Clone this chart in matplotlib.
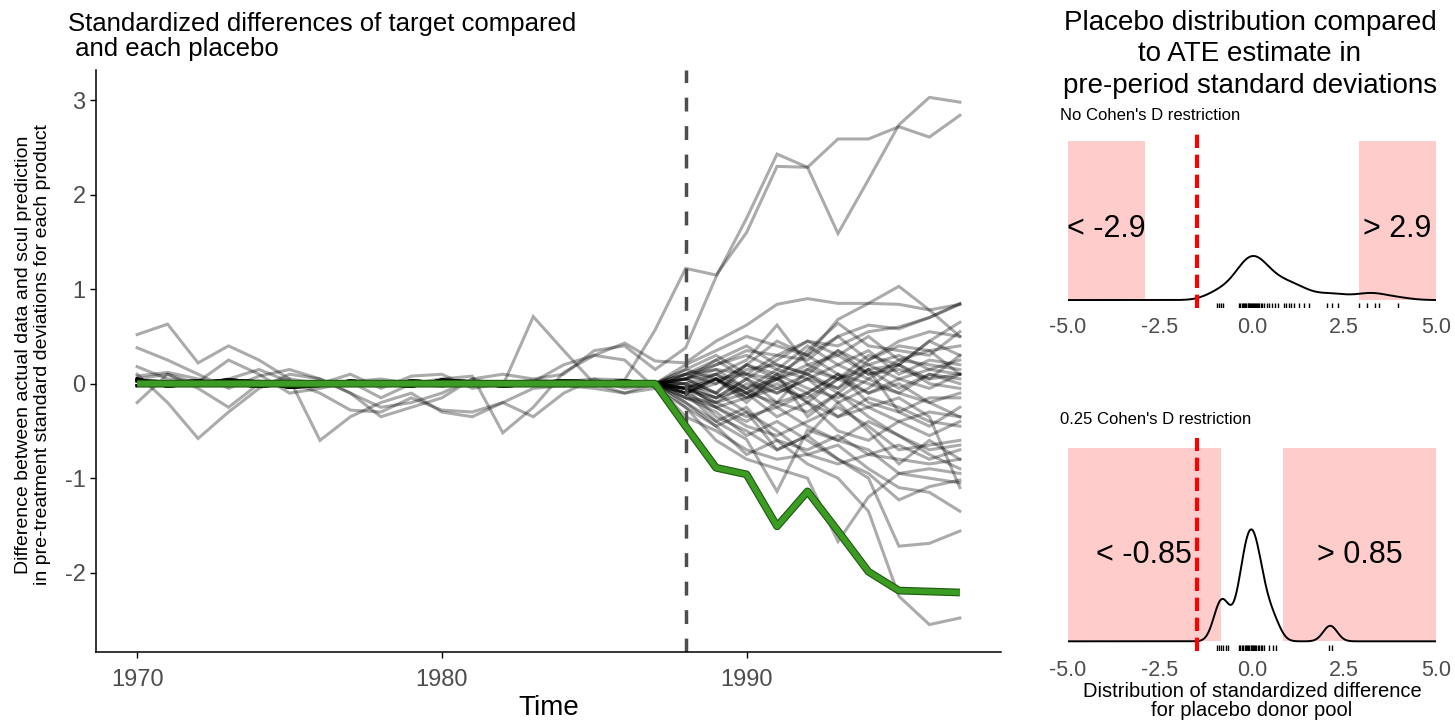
import numpy as np
import matplotlib.pyplot as plt
from matplotlib.transforms import blended_transform_factory


plt.rcParams["font.family"] = ["Liberation Sans", "DejaVu Sans"]
plt.rcParams["axes.unicode_minus"] = False

years = list(range(1970, 1998))
treat_year = 1988
ate_estimate = -1.5

# target (green) path, 1970-1997
target = [0.00, 0.00, 0.00, 0.00, 0.00, 0.00, 0.00, 0.00, 0.00,
          0.00, 0.00, 0.00, 0.00, 0.00, 0.00, 0.00, 0.00, 0.00,
          -0.45, -0.89, -0.96, -1.51, -1.14, -1.56, -1.99, -2.19, -2.20, -2.21]

# placebos that move before treatment: 1970-1987
noisy_pre = [
    [0.08, 0.12, 0.05, 0.00, 0.03, -0.02, 0.00, 0.02, 0.05, 0.00, -0.03, 0.02, 0.00, 0.04, 0.02, 0.05, 0.04, 0.57],
    [0.38, 0.25, 0.10, -0.05, 0.08, 0.15, 0.05, -0.10, -0.25, -0.20, -0.10, 0.05, 0.10, 0.05, 0.10, 0.35, 0.40, 0.15],
    [-0.20, 0.10, -0.05, -0.25, 0.00, 0.05, -0.60, -0.35, -0.20, -0.10, -0.30, -0.35, -0.20, -0.35, -0.10, 0.05, -0.05, 0.00],
    [0.10, -0.20, -0.58, -0.30, -0.05, 0.10, 0.05, -0.10, -0.35, -0.25, -0.15, 0.05, -0.02, 0.71, 0.35, 0.00, -0.10, -0.05],
    [0.18, 0.05, 0.02, 0.25, 0.10, -0.10, -0.05, 0.02, -0.15, 0.00, 0.05, 0.08, -0.52, -0.25, 0.12, 0.30, 0.25, -0.05],
    [0.52, 0.63, 0.22, 0.40, 0.25, 0.05, 0.00, 0.10, -0.05, 0.08, 0.10, -0.05, 0.00, 0.02, 0.20, 0.30, 0.43, 0.24],
    [0.05, 0.10, 0.00, 0.05, 0.15, 0.02, -0.10, -0.28, -0.30, -0.15, -0.28, -0.30, -0.20, -0.05, -0.02, -0.05, -0.10, 0.00],
]

# same placebos after treatment: 1988-1997
noisy_post = [
    [1.22, 1.15, 1.60, 2.30, 2.29, 2.59, 2.59, 2.72, 2.61, 2.84],
    [0.38, 1.13, 1.75, 2.43, 2.29, 1.59, 2.16, 2.74, 3.03, 2.98],
    [-0.10, 0.05, -0.20, 0.10, -0.35, -0.10, 0.15, -0.30, -0.45, -0.25],
    [-0.25, -0.45, -0.30, -0.70, -0.55, -0.20, -0.50, -0.85, -0.60, -0.80],
    [0.10, 0.25, 0.05, -0.20, 0.15, 0.35, 0.10, 0.20, 0.45, 0.30],
    [0.22, 0.45, 0.62, 0.84, 0.90, 0.85, 0.85, 0.84, 0.78, 0.84],
    [-0.05, -0.20, -0.35, -0.25, -0.45, -0.60, -0.40, -0.55, -0.70, -0.65],
]

# placebos that sit on zero before treatment
quiet_pre_a = [0.03, 0.02, 0.00, -0.02, 0.01, 0.02, 0.00, -0.01, 0.02, 0.01, -0.02, 0.00, 0.01, 0.02, 0.00, -0.01, 0.01, 0.00]
quiet_pre_b = [-0.02, 0.01, 0.03, 0.00, -0.03, 0.00, 0.02, 0.01, -0.02, 0.03, 0.01, -0.01, 0.00, 0.01, 0.03, 0.02, -0.02, 0.00]
quiet_pre_c = [0.05, -0.03, 0.01, 0.04, 0.02, -0.04, -0.02, 0.03, 0.00, -0.03, 0.04, 0.02, -0.03, 0.00, -0.02, 0.01, 0.03, 0.00]

quiet_post = [
    [0.10, 0.20, 0.35, 0.30, 0.45, 0.40, 0.55, 0.60, 0.70, 0.84],
    [0.05, 0.15, 0.10, 0.30, 0.25, 0.50, 0.62, 0.58, 0.70, 0.85],
    [-0.05, 0.10, 0.25, 0.62, 0.20, 0.05, 0.30, 0.20, 0.45, 0.65],
    [0.15, 0.30, 0.10, 0.05, 0.35, 0.64, 0.40, 0.35, 0.30, 0.55],
    [0.00, -0.10, 0.15, 0.20, 0.10, -0.05, 0.25, 0.40, 0.35, 0.40],
    [-0.10, 0.05, -0.15, 0.05, 0.20, 0.30, 0.10, 0.15, 0.05, 0.30],
    [0.05, 0.20, 0.30, 0.15, 0.40, 0.20, 0.05, 0.25, 0.20, 0.15],
    [-0.15, -0.20, 0.00, -0.10, 0.05, 0.20, 0.35, 0.10, 0.25, 0.20],
    [0.10, 0.00, 0.20, 0.45, 0.30, 0.10, -0.10, 0.05, -0.05, 0.10],
    [-0.05, 0.05, 0.10, -0.05, -0.15, 0.05, 0.15, -0.05, 0.10, 0.05],
    [0.00, -0.15, -0.05, 0.15, 0.05, -0.20, -0.05, 0.20, 0.00, -0.05],
    [-0.05, 0.05, -0.10, 0.05, 0.15, 0.05, 0.20, 0.05, 0.15, 0.10],
    [0.10, 0.15, -0.05, -0.25, -0.10, 0.10, -0.20, -0.30, -0.15, -0.15],
    [-0.05, -0.15, 0.05, -0.10, 0.05, -0.05, 0.15, 0.20, 0.05, 0.10],
    [0.05, 0.10, -0.10, 0.10, -0.05, -0.15, 0.05, -0.10, 0.10, 0.00],
    [-0.10, 0.05, -0.15, 0.00, -0.20, 0.05, -0.10, 0.00, -0.20, -0.10],
    [-0.05, -0.20, -0.10, -0.35, -0.20, -0.50, -0.60, -0.40, -0.55, -0.40],
    [-0.15, -0.25, -0.40, -0.20, -0.10, -0.35, -0.25, -0.40, -0.30, -0.35],
    [0.00, -0.25, -0.45, -0.55, -0.40, -0.25, -0.45, -0.70, -0.65, -0.60],
    [-0.20, -0.40, -0.25, -0.60, -0.70, -0.55, -0.75, -0.65, -0.80, -0.70],
    [-0.35, -0.50, -0.70, -0.80, -0.75, -0.85, -0.75, -0.80, -0.85, -0.80],
    [-0.15, -0.30, -0.55, -0.40, -0.60, -0.80, -0.95, -1.23, -1.09, -1.02],
    [-0.10, -0.40, -0.59, -1.14, -0.49, -0.60, -0.70, -0.95, -0.90, -0.95],
    [-0.25, -0.60, -0.80, -0.90, -1.00, -1.67, -1.20, -0.95, -1.00, -1.05],
    [-0.20, -0.45, -0.75, -0.60, -0.85, -1.00, -1.35, -2.25, -2.55, -2.48],
    [-0.05, -0.35, -0.50, -0.70, -0.55, -0.80, -1.00, -1.72, -1.69, -1.56],
    [0.05, -0.10, -0.30, -0.50, -0.75, -0.65, -0.90, -1.10, -1.15, -1.35],
    [0.20, 0.35, 0.50, 0.40, 0.30, 0.50, 0.25, 0.45, 0.55, 0.50],
    [0.00, 0.10, -0.05, 0.05, -0.10, 0.10, 0.00, -0.10, -0.20, -0.35],
    [-0.10, 0.00, 0.20, 0.05, -0.20, -0.35, -0.15, -0.25, -0.40, -0.45],
    [0.05, 0.25, 0.40, 0.20, 0.10, 0.35, 0.20, 0.30, 0.15, 0.25],
    [-0.05, -0.15, 0.05, 0.25, 0.45, 0.30, 0.50, 0.25, 0.35, 0.10],
    [0.15, 0.05, -0.10, -0.20, -0.30, -0.10, -0.35, -0.55, -0.75, -0.90],
    [-0.10, -0.25, -0.15, -0.05, 0.10, -0.10, -0.25, -0.15, -0.35, -1.10],
    [0.05, -0.10, 0.20, 0.10, 0.30, 0.68, 0.85, 1.03, 0.78, 0.50],
]

# placebo standardized differences (rug marks)
rug_all = [-0.95, -0.90, -0.84, -0.80, -0.36, -0.32, -0.28, -0.25, -0.22, -0.18, -0.15, -0.12,
           -0.10, -0.07, -0.05, -0.02, 0.00, 0.03, 0.05, 0.08, 0.10, 0.13, 0.16, 0.20, 0.24,
           0.28, 0.33, 0.40, 0.47, 0.55, 0.63, 0.70, 0.86, 0.93, 1.00, 1.07, 1.13, 1.27, 1.40,
           1.54, 2.04, 2.17, 2.33, 2.90, 3.12, 3.35, 3.44, 3.98]
rug_cohen = [-0.95, -0.90, -0.85, -0.80, -0.72, -0.65, -0.36, -0.32, -0.28, -0.24, -0.20,
             -0.16, -0.13, -0.10, -0.07, -0.04, -0.02, 0.00, 0.02, 0.05, 0.08, 0.11, 0.15,
             0.19, 0.24, 0.28, 0.32, 0.45, 0.56, 0.66, 2.08, 2.17]
cut_all = 2.9
cut_cohen = 0.85

W, H = 1455, 722
PINK = "#FFCCCC"
GREY30 = "#4D4D4D"


def px_box(left, top, right, bottom):
    """Pixel box -> figure fraction rect."""
    return [left / W, 1 - bottom / H, (right - left) / W, (bottom - top) / H]


def nrd0(x):
    x = np.asarray(x)
    iqr = np.subtract(*np.percentile(x, [75, 25]))
    lo = min(x.std(ddof=1), iqr / 1.34)
    return 0.9 * lo * len(x) ** -0.2


def density(x, grid, adjust=1.0):
    x = np.asarray(x)
    bw = nrd0(x) * adjust
    z = (grid[:, None] - x[None, :]) / bw
    return np.exp(-0.5 * z ** 2).sum(axis=1) / (len(x) * bw * np.sqrt(2 * np.pi))


def draw_main(fig):
    ax = fig.add_axes(px_box(96, 70, 1001, 652))
    for pre, post in zip(noisy_pre, noisy_post):
        ax.plot(years, pre + post, color="black", alpha=0.33, lw=2.2, solid_joinstyle="miter")
    quiet_pres = [quiet_pre_a, quiet_pre_b, quiet_pre_c]
    for i, post in enumerate(quiet_post):
        ax.plot(years, quiet_pres[i % 3] + post, color="black", alpha=0.33, lw=2.2,
                solid_joinstyle="miter")

    ax.axvline(treat_year, color=GREY30, lw=2.5, dashes=(4, 4.2))
    ax.plot(years, target, color="#1f5a12", lw=5.6, solid_capstyle="butt")
    ax.plot(years, target, color="#3b9b22", lw=4.0, solid_capstyle="butt")

    ax.set_xlim(1968.65, 1998.35)
    ax.set_ylim(-2.84, 3.32)
    ax.set_xticks([1970, 1980, 1990])
    ax.set_yticks([-2, -1, 0, 1, 2, 3])
    ax.tick_params(labelsize=17, labelcolor=GREY30, length=4, width=1, color="black")
    ax.tick_params(axis="x", pad=8)
    for side in ("top", "right"):
        ax.spines[side].set_visible(False)
    for side in ("left", "bottom"):
        ax.spines[side].set_linewidth(1.1)
    ax.set_xlabel("Time", fontsize=20, labelpad=3)

    fig.text(68 / W, 1 - 12 / H, "Standardized differences of target compared\n and each placebo",
             fontsize=18.5, va="top", ha="left", linespacing=1.05)
    fig.text(33 / W, 1 - 355 / H,
             "Difference between actual data and scul prediction\nin pre-treatment standard deviations for each product",
             fontsize=14, rotation=90, va="center", ha="center", linespacing=1.15)


def draw_panel(fig, box, rug, cut, peak_frac, adjust, title, title_y):
    ax = fig.add_axes(px_box(*box))
    grid = np.linspace(-5, 5, 512)
    dens = density(rug, grid, adjust)
    top = dens.max() / peak_frac

    ax.fill_between([-5, -cut], 0, top, color=PINK, lw=0)
    ax.fill_between([cut, 5], 0, top, color=PINK, lw=0)
    ax.plot(grid, dens, color="black", lw=1.4)
    ax.vlines(rug, 0, 0.03, transform=ax.get_xaxis_transform(), color="black", lw=1.0)
    ax.axvline(ate_estimate, color="red", lw=3, dashes=(3.2, 1.6))

    tr = blended_transform_factory(ax.transData, ax.transAxes)
    ax.text((-5 - cut) / 2, 0.45, f"< -{cut:g}", transform=tr, ha="center", va="center", fontsize=22)
    ax.text((5 + cut) / 2, 0.45, f"> {cut:g}", transform=tr, ha="center", va="center", fontsize=22)

    ax.set_xlim(-5, 5)
    ax.set_ylim(-0.05 * top, 1.05 * top)
    ax.set_xticks([-5, -2.5, 0, 2.5, 5])
    ax.set_xticklabels(["-5.0", "-2.5", "0.0", "2.5", "5.0"])
    ax.set_yticks([])
    ax.tick_params(axis="x", length=0, pad=6.5, labelsize=15.5, labelcolor=GREY30)
    for s in ax.spines.values():
        s.set_visible(False)
    fig.text(1060 / W, 1 - title_y / H, title, fontsize=12, va="center", ha="left")
    return ax


def main():
    fig = plt.figure(figsize=(W / 100, H / 100), dpi=100)
    draw_main(fig)

    draw_panel(fig, (1068, 133, 1436, 308), rug_all, cut_all, 0.277, 1.0,
               "No Cohen's D restriction", 116)
    draw_panel(fig, (1068, 438, 1436, 651), rug_cohen, cut_cohen, 0.578, 1.12,
               "0.25 Cohen's D restriction", 420)

    fig.text(1250 / W, 1 - 10 / H, "Placebo distribution compared\nto ATE estimate in\npre-period standard deviations",
             fontsize=20, ha="center", va="top", multialignment="center", linespacing=1.27)
    fig.text(1252 / W, 1 - 682 / H, "Distribution of standardized difference\nfor placebo donor pool",
             fontsize=14.5, ha="center", va="top", multialignment="center", linespacing=1.0)

    fig.savefig("out.png", dpi=100)


if __name__ == "__main__":
    main()
